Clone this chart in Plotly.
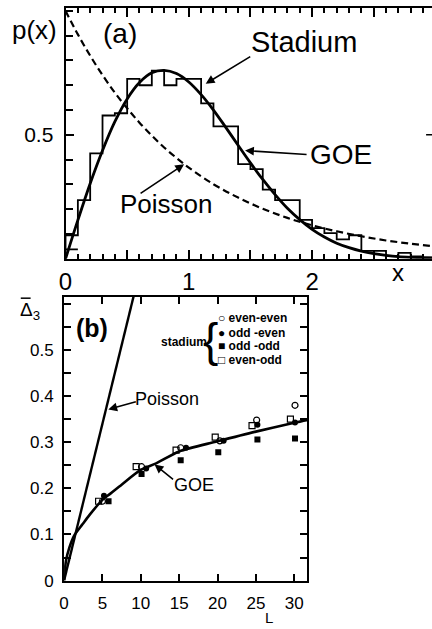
import plotly.graph_objects as go

# ---------------- data: panel (a) ----------------
bin_width = 0.1
hist_heights = [0.095, 0.237, 0.425, 0.578, 0.587, 0.726, 0.700, 0.759, 0.700, 0.726,
                0.726, 0.627, 0.534, 0.534, 0.382, 0.362, 0.279, 0.237, 0.237, 0.157,
                0.124, 0.104, 0.078, 0.095, 0.032, 0.032, 0.012, 0.024, 0.010, 0.006]
first_bin_inner = 0.038

goe_x = [0.0, 0.1, 0.2, 0.3, 0.4, 0.5, 0.6, 0.7, 0.8, 0.9, 1.0, 1.1, 1.2, 1.3, 1.4, 1.5,
         1.6, 1.7, 1.8, 1.9, 2.0, 2.1, 2.2, 2.3, 2.4, 2.5, 2.6, 2.7, 2.8, 2.9, 3.0]
goe_p = [0.0, 0.156, 0.304, 0.437, 0.553, 0.645, 0.711, 0.750, 0.760, 0.747, 0.713,
         0.662, 0.600, 0.530, 0.458, 0.387, 0.320, 0.259, 0.204, 0.158, 0.119, 0.088,
         0.063, 0.045, 0.031, 0.021, 0.014, 0.009, 0.006, 0.004, 0.002]

poi_x = [0.0, 0.1, 0.2, 0.3, 0.4, 0.5, 0.6, 0.7, 0.8, 0.9, 1.0, 1.2, 1.4, 1.6, 1.8,
         2.0, 2.2, 2.4, 2.6, 2.8, 3.0]
poi_p = [1.0, 0.905, 0.819, 0.741, 0.670, 0.607, 0.549, 0.497, 0.449, 0.407, 0.368,
         0.301, 0.247, 0.202, 0.165, 0.135, 0.111, 0.091, 0.074, 0.061, 0.050]

a_xtick_vals = [0, 0.5, 1, 1.5, 2, 2.5]
a_xtick_text = ["0", "", "1", "", "2", ""]
a_ytick_vals = [0.5]
a_ytick_text = ["0.5"]

# ---------------- data: panel (b) ----------------
poisson_L = [0, 10]
poisson_D = [0, 0.68]

goe_L = [0, 0.25, 0.7, 1.3, 2.4, 3.3, 5, 6, 7.5, 10, 12, 15, 20, 25, 30, 32]
goe_D = [0, 0.043, 0.072, 0.097, 0.122, 0.142, 0.175, 0.188, 0.208, 0.240, 0.254,
         0.280, 0.302, 0.323, 0.342, 0.349]

ee_L = [5.0, 10.1, 15.2, 20.3, 25.1, 30.1]
ee_D = [0.172, 0.247, 0.288, 0.303, 0.348, 0.380]
oe_L = [5.2, 10.7, 15.9, 20.8, 25.2, 30.1]
oe_D = [0.184, 0.243, 0.288, 0.303, 0.338, 0.343]
oo_L = [5.8, 10.1, 15.2, 20.1, 25.2, 30.1]
oo_D = [0.172, 0.231, 0.261, 0.278, 0.306, 0.308]
eo_L = [4.5, 9.4, 14.6, 19.7, 24.5, 29.5]
eo_D = [0.172, 0.247, 0.283, 0.311, 0.336, 0.350]

b_xtick_vals = [0, 5, 10, 15, 20, 25, 30]
b_xtick_text = ["0", "5", "10", "15", "20", "25", "30"]
b_ytick_vals = [0, 0.1, 0.2, 0.3, 0.4, 0.5]
b_ytick_text = ["0", "0.1", "0.2", "0.3", "0.4", "0.5"]

# ---------------- layout helpers ----------------
W, H = 432, 629
FONT = "Liberation Sans"


def fx(px):
    return px / W


def fy(py):
    return 1 - py / H


fig = go.Figure()

# histogram as step line
edges = [i * bin_width for i in range(len(hist_heights) + 1)]
hx = [0.0] + edges
hy = [0.0] + hist_heights + [hist_heights[-1]]
fig.add_trace(go.Scatter(x=hx, y=hy, mode="lines", line=dict(color="black", width=1.8, shape="hv"),
                         xaxis="x", yaxis="y", showlegend=False, hoverinfo="skip"))
fig.add_trace(go.Scatter(x=[edges[0], edges[1]], y=[first_bin_inner, first_bin_inner], mode="lines",
                         line=dict(color="black", width=1.8), xaxis="x", yaxis="y",
                         showlegend=False, hoverinfo="skip"))
fig.add_trace(go.Scatter(x=goe_x, y=goe_p, mode="lines", line=dict(color="black", width=2.8, shape="spline"),
                         xaxis="x", yaxis="y", showlegend=False))
fig.add_trace(go.Scatter(x=poi_x, y=poi_p, mode="lines",
                         line=dict(color="black", width=2.2, dash="7px,4px", shape="spline"),
                         xaxis="x", yaxis="y", showlegend=False))

# panel (b)
fig.add_trace(go.Scatter(x=poisson_L, y=poisson_D, mode="lines", line=dict(color="black", width=2.4),
                         xaxis="x2", yaxis="y2", showlegend=False))
fig.add_trace(go.Scatter(x=goe_L, y=goe_D, mode="lines",
                         line=dict(color="black", width=2.6, shape="spline", smoothing=0.8),
                         xaxis="x2", yaxis="y2", showlegend=False))
mk_line = dict(color="black", width=1.2)
fig.add_trace(go.Scatter(x=ee_L, y=ee_D, mode="markers", xaxis="x2", yaxis="y2", showlegend=False,
                         marker=dict(symbol="circle-open", size=6, color="black", line=mk_line)))
fig.add_trace(go.Scatter(x=oe_L, y=oe_D, mode="markers", xaxis="x2", yaxis="y2", showlegend=False,
                         marker=dict(symbol="circle", size=6, color="black")))
fig.add_trace(go.Scatter(x=oo_L, y=oo_D, mode="markers", xaxis="x2", yaxis="y2", showlegend=False,
                         marker=dict(symbol="square", size=6, color="black")))
fig.add_trace(go.Scatter(x=eo_L, y=eo_D, mode="markers", xaxis="x2", yaxis="y2", showlegend=False,
                         marker=dict(symbol="square-open", size=6, color="black", line=mk_line)))

axis_common = dict(showline=True, linecolor="black", linewidth=2, showgrid=False, zeroline=False,
                   ticks="inside", tickcolor="black", tickwidth=1.5, tickmode="array")

fig.update_layout(
    width=W, height=H, margin=dict(l=0, r=0, t=0, b=0),
    paper_bgcolor="white", plot_bgcolor="white",
    font=dict(family=FONT, color="black"),
    xaxis=dict(axis_common, domain=[fx(59.5), 1.0], range=[0, 2.973], anchor="y",
               tickvals=a_xtick_vals, ticktext=a_xtick_text, ticklen=9, mirror="ticks",
               tickfont=dict(size=24), ticklabelstandoff=0,
               minor=dict(tickmode="linear", tick0=0, dtick=0.1, ticks="inside", ticklen=5,
                          tickcolor="black", tickwidth=1.5)),
    yaxis=dict(axis_common, domain=[fy(263), fy(8)], range=[0, 1.012], anchor="x",
               tickvals=a_ytick_vals, ticktext=a_ytick_text, ticklen=8, mirror=False,
               tickfont=dict(size=21), ticklabelstandoff=6,
               minor=dict(tickmode="linear", tick0=0, dtick=0.1, ticks="inside", ticklen=7,
                          tickcolor="black", tickwidth=1.5)),
    xaxis2=dict(axis_common, domain=[fx(58), fx(305)], range=[0, 31.67], anchor="y2",
                tickvals=b_xtick_vals, ticktext=b_xtick_text, ticklen=7, mirror="ticks",
                tickfont=dict(size=17), ticklabelstandoff=6),
    yaxis2=dict(axis_common, domain=[fy(590), fy(301.7)], range=[0, 0.615], anchor="x2",
                tickvals=b_ytick_vals, ticktext=b_ytick_text, ticklen=7, mirror="ticks",
                tickfont=dict(size=17), ticklabelstandoff=5,
                minor=dict(tickmode="linear", tick0=0, dtick=0.05, ticks="inside", ticklen=7,
                           tickcolor="black", tickwidth=1.5)),
)

# small right-axis tick of panel (a) visible at the image edge
fig.add_shape(type="line", xref="paper", yref="y", x0=fx(426), x1=1.0, y0=0.5, y1=0.5,
              line=dict(color="black", width=1.5))
# overbar of the Delta_3 axis label
fig.add_shape(type="line", xref="paper", yref="paper", x0=fx(14), x1=fx(24), y0=fy(303), y1=fy(303),
              line=dict(color="black", width=1.5))

ann = []


def text(px, py, s, size, bold=False, xanchor="center"):
    ann.append(dict(x=fx(px), y=fy(py), xref="paper", yref="paper", text=(f"<b>{s}</b>" if bold else s),
                    showarrow=False, xanchor=xanchor, yanchor="middle",
                    font=dict(size=size, family=FONT, color="black")))


def arrow(tail, head):
    ann.append(dict(x=fx(head[0]), y=fy(head[1]), xref="paper", yref="paper", text="",
                    showarrow=True, ax=tail[0] - head[0], ay=tail[1] - head[1],
                    arrowhead=2, arrowsize=1.1, arrowwidth=1.6, arrowcolor="black"))


# panel (a) labels
text(28, 30, "p(x)", 26)
text(115, 34, "(a)", 28)
text(302, 43, "Stadium", 29)
arrow((248, 57), (202, 85))
text(339, 157, "GOE", 28)
arrow((305, 157), (242, 153))
text(162, 207, "Poisson", 26)
arrow((135, 197), (180, 167))
text(397, 277, "x", 24)

# panel (b) labels
text(23, 316, "Δ<sub>3</sub>", 19)
text(86, 333, "(b)", 25, bold=True)
text(163, 405, "Poisson", 18)
arrow((132, 408), (103, 416))
text(190, 493, "GOE", 18)
arrow((170, 488), (150, 472))
text(266, 627, "L", 15)

# legend
text(180, 348, "stadium", 12, bold=True)
text(207, 345, "{", 46)
text(212, 323, "○ even-even", 12, bold=True, xanchor="left")
text(212, 338, "● odd -even", 12, bold=True, xanchor="left")
text(212, 352, "■ odd -odd", 12, bold=True, xanchor="left")
text(212, 366, "□ even-odd", 12, bold=True, xanchor="left")

fig.update_layout(annotations=ann)
fig.write_html("out.html", config={"displayModeBar": False},
               post_script="document.body.style.margin='0px';document.body.style.overflow='hidden';")
